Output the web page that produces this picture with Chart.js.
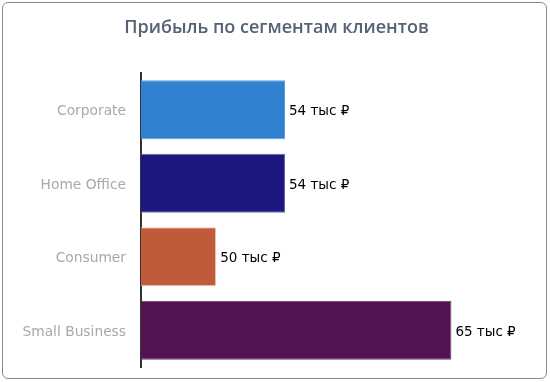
<!DOCTYPE html>
<html>
<head>
<meta charset="utf-8">
<script src="https://cdn.jsdelivr.net/npm/chart.js@4"></script>
<style>
  html, body { margin: 0; padding: 0; background: #fff; }
  #card { position: absolute; left: 2px; top: 2px; width: 543px; height: 375px;
          border: 1px solid #8a8a8a; border-radius: 6px; background: #fff; overflow: hidden; }
  #c { display: block; }
</style>
</head>
<body>
<div id="card"><canvas id="c" width="543" height="375"></canvas></div>
<script>
const categories = ["Corporate", "Home Office", "Consumer", "Small Business"];
const profitK = [54.2, 54.2, 49.9, 64.6];
const valueLabels = ["54 тыс ₽", "54 тыс ₽", "50 тыс ₽", "65 тыс ₽"];
const barColors = ["#3181d3", "#1b1680", "#bf5b3b", "#521455"];
const borderColors = ["#5d9be0", "#6b68ad", "#f0d0c0", "#6e3a72"];
const axisMin = 45.2;
const axisMax = 70.5125;

const labelPlugin = {
  id: 'valueLabels',
  afterDatasetsDraw(chart) {
    const ctx = chart.ctx;
    const meta = chart.getDatasetMeta(0);
    ctx.save();
    ctx.font = '13.5px "DejaVu Sans"';
    ctx.fillStyle = '#000';
    ctx.textAlign = 'left';
    ctx.textBaseline = 'middle';
    meta.data.forEach((bar, i) => {
      ctx.fillText(valueLabels[i], bar.x + 4, bar.y + 2);
    });
    ctx.restore();
  }
};

new Chart(document.getElementById('c'), {
  type: 'bar',
  data: {
    labels: categories,
    datasets: [{
      data: profitK,
      backgroundColor: barColors,
      borderColor: borderColors,
      borderWidth: 1,
      categoryPercentage: 0.8,
      barPercentage: 1.0
    }]
  },
  options: {
    indexAxis: 'y',
    responsive: false,
    animation: false,
    layout: { padding: { left: 4, right: 0, top: 0, bottom: 11 } },
    plugins: {
      legend: { display: false },
      tooltip: { enabled: false },
      title: {
        display: true,
        text: 'Прибыль по сегментам клиентов',
        color: '#566175',
        font: { family: '"Open Sans"', size: 18, weight: '600' },
        padding: { top: 14, bottom: 34.4 }
      }
    },
    scales: {
      x: {
        display: false,
        min: axisMin,
        max: axisMax
      },
      y: {
        afterFit(scale) { scale.width = 134; scale.paddingTop = 0; scale.paddingBottom = 0; },
        grid: { display: false, drawTicks: false },
        border: { display: true, color: '#333', width: 2 },
        ticks: {
          color: '#a8a8a8',
          padding: 15,
          labelOffset: 2,
          font: { family: '"DejaVu Sans"', size: 13.8 }
        }
      }
    }
  },
  plugins: [labelPlugin]
});
</script>
</body>
</html>
